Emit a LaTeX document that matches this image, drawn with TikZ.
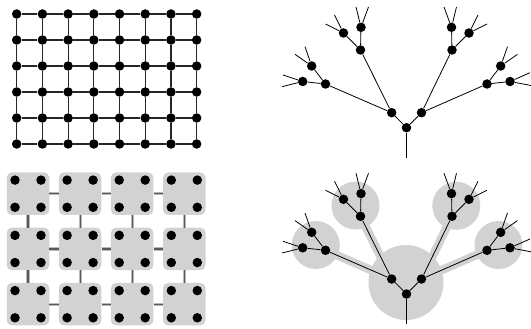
\documentclass[tikz,border=0pt]{standalone}
\usetikzlibrary{backgrounds}
\newcommand\mytree[2]{%
\begin{scope}[shift={(0,#2)}]
\node[dot] (#1r) at (406.5,127.7) {};
\node[dot] (#1a) at (391.7,112.7) {};
\node[dot] (#1b) at (421.5,112.7) {};
\node[dot] (#1a1) at (360.5,50) {};
\node[dot] (#1b1) at (452,50) {};
\node[dot] (#1a2) at (325.5,84) {};
\node[dot] (#1b2) at (487,84) {};
\node[dot] (#1a11) at (361,27.3) {};
\node[dot] (#1b11) at (451.5,27.3) {};
\node[dot] (#1a12) at (343.5,33) {};
\node[dot] (#1b12) at (469,33) {};
\node[dot] (#1a21) at (311.7,66) {};
\node[dot] (#1b21) at (500.7,66) {};
\node[dot] (#1a22) at (302.7,81.5) {};
\node[dot] (#1b22) at (510,81.5) {};
\coordinate (#1s) at (406.5,158);
\coordinate (#1a11x) at (356,7);
\coordinate (#1a11y) at (368.5,7);
\coordinate (#1b11x) at (444,7);
\coordinate (#1b11y) at (456.5,7);
\coordinate (#1a12x) at (325.5,24);
\coordinate (#1a12y) at (334.5,15);
\coordinate (#1b12x) at (487,24);
\coordinate (#1b12y) at (478,15);
\coordinate (#1a21x) at (295,54.3);
\coordinate (#1a21y) at (305,46.7);
\coordinate (#1b21x) at (517.5,54.3);
\coordinate (#1b21y) at (507.5,46.7);
\coordinate (#1a22x) at (283,75);
\coordinate (#1a22y) at (282,86.7);
\coordinate (#1b22x) at (530,72.7);
\coordinate (#1b22y) at (531,85.5);
\end{scope}
\draw[treeline] (#1r) -- (#1s);
\draw[treeline] (#1r) -- (#1a);
\draw[treeline] (#1r) -- (#1b);
\draw[treeline] (#1a) -- (#1a1);
\draw[treeline] (#1a) -- (#1a2);
\draw[treeline] (#1b) -- (#1b1);
\draw[treeline] (#1b) -- (#1b2);
\draw[treeline] (#1a1) -- (#1a11);
\draw[treeline] (#1a1) -- (#1a12);
\draw[treeline] (#1a2) -- (#1a21);
\draw[treeline] (#1a2) -- (#1a22);
\draw[treeline] (#1b1) -- (#1b11);
\draw[treeline] (#1b1) -- (#1b12);
\draw[treeline] (#1b2) -- (#1b21);
\draw[treeline] (#1b2) -- (#1b22);
\foreach \n in {a11,a12,a21,a22,b11,b12,b21,b22}{
  \draw[treeline] (#1\n) -- (#1\n x);
  \draw[treeline] (#1\n) -- (#1\n y);
}%
}
\begin{document}
\begin{tikzpicture}[x=1pt,y=-1pt,
  dot/.style={circle,fill=black,inner sep=0pt,minimum size=9.5pt},
  gridline/.style={draw=black!85,line width=1.1pt},
  treeline/.style={draw=black,line width=0.8pt},
  cell/.style={rectangle,rounded corners=5pt,fill=gray!35,minimum size=42.5pt,inner sep=0pt},
  conn/.style={draw=black!65,line width=1.1pt,preaction={draw=gray!55,line width=3.2pt}},
  band/.style={draw=gray!35,line width=8.5pt},
  blob/.style={circle,fill=gray!35,inner sep=0pt}]
\useasboundingbox (0,0) rectangle (531,329);
% top-left grid
\foreach \i in {0,...,7}{
  \foreach \j in {0,...,5}{
    \node[dot] (g-\i-\j) at ({16.7+25.71*\i},{14+26*\j}) {};
  }
}
\foreach \i in {0,...,7}{
  \foreach \j in {0,...,4}{
    \pgfmathtruncatemacro\jj{\j+1}
    \draw[gridline] (g-\i-\j) -- (g-\i-\jj);
  }
}
\foreach \i in {0,...,6}{
  \foreach \j in {0,...,5}{
    \pgfmathtruncatemacro\ii{\i+1}
    \draw[gridline] (g-\i-\j) -- (g-\ii-\j);
  }
}
% bottom-left blocked grid
\foreach \k in {0,...,3}{
  \foreach \m in {0,...,2}{
    \node[cell] (s-\k-\m) at ({28+52.1*\k},{193.7+55.25*\m}) {};
    \node[dot] (d-\k-\m-1) at ([xshift=-13pt,yshift=13.6pt]s-\k-\m.center) {};
    \node[dot] (d-\k-\m-2) at ([xshift=13pt,yshift=13.6pt]s-\k-\m.center) {};
    \node[dot] (d-\k-\m-3) at ([xshift=-13pt,yshift=-13.6pt]s-\k-\m.center) {};
    \node[dot] (d-\k-\m-4) at ([xshift=13pt,yshift=-13.6pt]s-\k-\m.center) {};
  }
}
\foreach \k in {0,...,2}{
  \foreach \m in {0,...,2}{
    \pgfmathtruncatemacro\kk{\k+1}
    \draw[conn] (s-\k-\m) -- (s-\kk-\m);
  }
}
\foreach \k in {0,...,3}{
  \foreach \m in {0,...,1}{
    \pgfmathtruncatemacro\mm{\m+1}
    \draw[conn] (s-\k-\m) -- (s-\k-\mm);
  }
}
% trees
\mytree{T}{0}
\mytree{B}{166.3}
\begin{scope}[on background layer]
  \node[blob,minimum size=75pt] (c0) at (406,282.5) {};
  \node[blob,minimum size=48pt] (c1) at (355.5,205.5) {};
  \node[blob,minimum size=48pt] (c2) at (456.3,205.8) {};
  \node[blob,minimum size=48pt] (c3) at (315.8,245) {};
  \node[blob,minimum size=48pt] (c4) at (498.5,245) {};
  \draw[band] (Ba.center) -- (Ba1.center);
  \draw[band] (Ba.center) -- (Ba2.center);
  \draw[band] (Bb.center) -- (Bb1.center);
  \draw[band] (Bb.center) -- (Bb2.center);
\end{scope}
\end{tikzpicture}
\end{document}
